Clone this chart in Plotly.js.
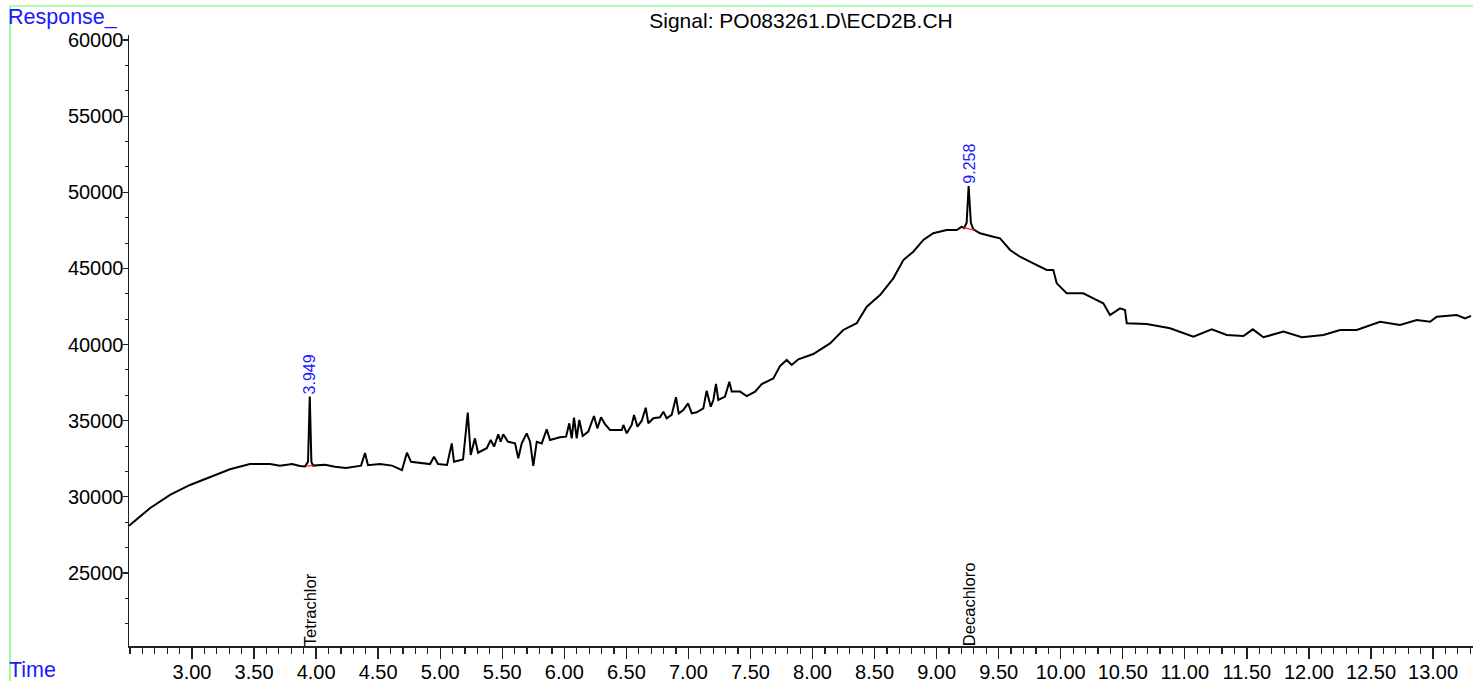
<!DOCTYPE html>
<html>
<head>
<meta charset="utf-8">
<script src="https://cdn.plot.ly/plotly-3.0.1.min.js"></script>
<style>
html,body{margin:0;padding:0;background:#fff;}
#chart{width:1473px;height:681px;}
</style>
</head>
<body>
<div id="chart"></div>
<script>
// Retention time (min) and detector response
var times = [
  2.492, 2.500, 2.661, 2.823, 2.984, 3.145, 3.306, 3.467, 3.628, 3.709, 3.806, 3.870,
  3.911, 3.935, 3.949, 3.962, 3.975, 4.072, 4.152, 4.241, 4.313, 4.362,
  4.394, 4.418, 4.515, 4.612, 4.692, 4.732, 4.765, 4.837, 4.918, 4.950,
  4.982, 5.055, 5.093, 5.111, 5.184, 5.200, 5.222, 5.246, 5.280, 5.305,
  5.375, 5.407, 5.434, 5.468, 5.487, 5.508, 5.546, 5.603, 5.629, 5.657,
  5.697, 5.724, 5.750, 5.778, 5.818, 5.858, 5.885, 5.965, 6.014, 6.040,
  6.060, 6.078, 6.100, 6.121, 6.148, 6.193, 6.239, 6.266, 6.296, 6.328,
  6.368, 6.463, 6.476, 6.503, 6.543, 6.562, 6.589, 6.624, 6.656, 6.677,
  6.717, 6.771, 6.798, 6.825, 6.865, 6.900, 6.922, 6.959, 6.997, 7.027,
  7.067, 7.120, 7.147, 7.180, 7.201, 7.222, 7.241, 7.295, 7.330, 7.349,
  7.416, 7.470, 7.537, 7.591, 7.684, 7.738, 7.792, 7.832, 7.886, 8.006,
  8.141, 8.248, 8.356, 8.437, 8.544, 8.651, 8.732, 8.812, 8.893, 8.973,
  9.081, 9.162, 9.202, 9.221, 9.242, 9.258, 9.276, 9.296, 9.350, 9.457,
  9.511, 9.592, 9.672, 9.779, 9.887, 9.940, 9.968, 10.048, 10.182, 10.263,
  10.343, 10.397, 10.478, 10.518, 10.532, 10.693, 10.881, 11.069, 11.217, 11.338,
  11.472, 11.548, 11.633, 11.795, 11.943, 12.117, 12.251, 12.385, 12.573, 12.734,
  12.869, 12.976, 13.030, 13.191, 13.258, 13.306
];
var responses = [
  28100, 28150, 29250, 30130, 30780, 31320, 31810, 32160, 32160, 32050, 32150, 32020,
  32000, 32300, 36580, 32300, 32050, 32100, 31980, 31900, 32000, 32050,
  32880, 32080, 32150, 32050, 31760, 32900, 32300, 32250, 32150, 32630,
  32150, 32090, 33510, 32310, 32460, 33730, 35530, 32750, 33840, 32900,
  33190, 33730, 33300, 34100, 33620, 34100, 33620, 33510, 32530, 33510,
  34170, 33620, 32030, 33620, 33510, 34430, 33730, 33910, 33950, 34830,
  33840, 35200, 33840, 35050, 34000, 34280, 35310, 34500, 35220, 34780,
  34390, 34390, 34720, 34170, 34720, 35380, 34610, 35000, 35850, 34830,
  35160, 35220, 35590, 35160, 35380, 36540, 35480, 35700, 36140, 35480,
  35550, 35810, 36970, 35920, 36360, 37410, 36360, 36580, 37560, 36910,
  36910, 36620, 36910, 37410, 37780, 38590, 38990, 38660, 39030, 39380,
  40080, 40960, 41400, 42490, 43250, 44350, 45550, 46100, 46870, 47310,
  47520, 47520, 47740, 47650, 48000, 50410, 48000, 47570, 47310, 47080,
  46980, 46210, 45770, 45330, 44900, 44900, 44020, 43370, 43370, 43040,
  42710, 41940, 42380, 42270, 41400, 41350, 41070, 40520, 41000, 40630,
  40560, 41000, 40480, 40850, 40480, 40630, 40960, 40960, 41500, 41280,
  41610, 41500, 41830, 41940, 41720, 41880
];

// Integration baselines under the two identified peaks
var base1Times = [3.915, 3.975];
var base1Resp = [32020, 32050];
var base2Times = [9.215, 9.305];
var base2Resp = [47680, 47520];

// Peak annotations
var peakTimes = [3.949, 9.258];
var peakTops = [36580, 50410];
var peakLabels = ["3.949", "9.258"];
var compoundNames = ["Tetrachlor", "Decachloro"];

// Axis ticks
var xTickVals = [3.0, 3.5, 4.0, 4.5, 5.0, 5.5, 6.0, 6.5, 7.0, 7.5, 8.0, 8.5, 9.0, 9.5, 10.0, 10.5, 11.0, 11.5, 12.0, 12.5, 13.0];
var xTickText = ["3.00", "3.50", "4.00", "4.50", "5.00", "5.50", "6.00", "6.50", "7.00", "7.50", "8.00", "8.50", "9.00", "9.50", "10.00", "10.50", "11.00", "11.50", "12.00", "12.50", "13.00"];
var yTickVals = [25000, 30000, 35000, 40000, 45000, 50000, 55000, 60000];
var yTickText = ["25000", "30000", "35000", "40000", "45000", "50000", "55000", "60000"];

var FONT = "Liberation Sans, Arial, sans-serif";
var BLUE = "#1a1aff";
var GREEN = "#66f066";

var traces = [
  {x: times, y: responses, type: "scatter", mode: "lines",
   line: {color: "#000", width: 2}, hoverinfo: "skip"},
  {x: base1Times, y: base1Resp, type: "scatter", mode: "lines",
   line: {color: "#ff2020", width: 1.2}, hoverinfo: "skip"},
  {x: base2Times, y: base2Resp, type: "scatter", mode: "lines",
   line: {color: "#ff2020", width: 1.2}, hoverinfo: "skip"}
];

var annotations = [];
for (var i = 0; i < peakTimes.length; i++) {
  annotations.push({x: peakTimes[i], y: peakTops[i], xref: "x", yref: "y",
    text: peakLabels[i], textangle: -90, showarrow: false,
    xanchor: "center", yanchor: "bottom", yshift: 0,
    font: {family: FONT, size: 16, color: BLUE}});
  annotations.push({x: peakTimes[i], y: 0, xref: "x", yref: "paper",
    text: compoundNames[i], textangle: -90, showarrow: false,
    xanchor: "center", yanchor: "bottom", yshift: -2,
    font: {family: FONT, size: 16.5, color: "#000"}});
}
annotations.push({x: -0.0908, y: 1.030, xref: "paper", yref: "paper",
  text: "Response_", showarrow: false, xanchor: "left", yanchor: "middle",
  borderpad: 0,
  font: {family: FONT, size: 21.5, color: BLUE}});
annotations.push({x: -0.0908, y: -0.039, xref: "paper", yref: "paper",
  text: "Time", showarrow: false, xanchor: "left", yanchor: "middle",
  font: {family: FONT, size: 21.5, color: BLUE}});
annotations.push({x: -0.0908, y: 1.073, xref: "paper", yref: "paper",
  text: "Time", showarrow: false, xanchor: "left", yanchor: "middle",
  font: {family: FONT, size: 21.5, color: BLUE}});

var layout = {
  width: 1473, height: 681,
  margin: {l: 129, r: 0, t: 35, b: 35, pad: 0},
  paper_bgcolor: "#fff", plot_bgcolor: "#fff",
  showlegend: false,
  title: {text: "Signal: PO083261.D\\ECD2B.CH", xref: "paper", x: 0.5, xanchor: "center",
          yref: "container", y: 0.970, yanchor: "middle",
          font: {family: FONT, size: 21, color: "#000"}},
  xaxis: {range: [2.4924, 13.322], showgrid: false, zeroline: false,
          showline: true, linecolor: "#222", linewidth: 1.5,
          tickmode: "array", tickvals: xTickVals, ticktext: xTickText,
          ticks: "outside", ticklen: 11, tickwidth: 1.3, tickcolor: "#222",
          ticklabelstandoff: -4,
          minor: {dtick: 0.1, tick0: 0, ticks: "outside", ticklen: 6, tickwidth: 1.2, tickcolor: "#222", showgrid: false},
          tickfont: {family: FONT, size: 20, color: "#000"}},
  yaxis: {range: [20204, 60330], showgrid: false, zeroline: false,
          showline: true, linecolor: "#222", linewidth: 1.5,
          tickmode: "array", tickvals: yTickVals, ticktext: yTickText,
          ticks: "outside", ticklen: 5, tickwidth: 1.3, tickcolor: "#222",
          ticklabelstandoff: -5,
          minor: {dtick: 5000/3, tick0: 0, ticks: "outside", ticklen: 3, tickwidth: 1.1, tickcolor: "#222", showgrid: false},
          tickfont: {family: FONT, size: 20, color: "#000"}},
  annotations: annotations,
  shapes: [
    {type: "line", xref: "paper", yref: "paper", x0: -0.0885, x1: 1.0, y0: 1.0475, y1: 1.0475,
     line: {color: GREEN, width: 1.2}},
    {type: "line", xref: "paper", yref: "paper", x0: -0.0885, x1: -0.0885, y0: 1.0475, y1: -0.06,
     line: {color: GREEN, width: 1.2}}
  ]
};

Plotly.newPlot("chart", traces, layout, {displayModeBar: false, staticPlot: true});
</script>
</body>
</html>
